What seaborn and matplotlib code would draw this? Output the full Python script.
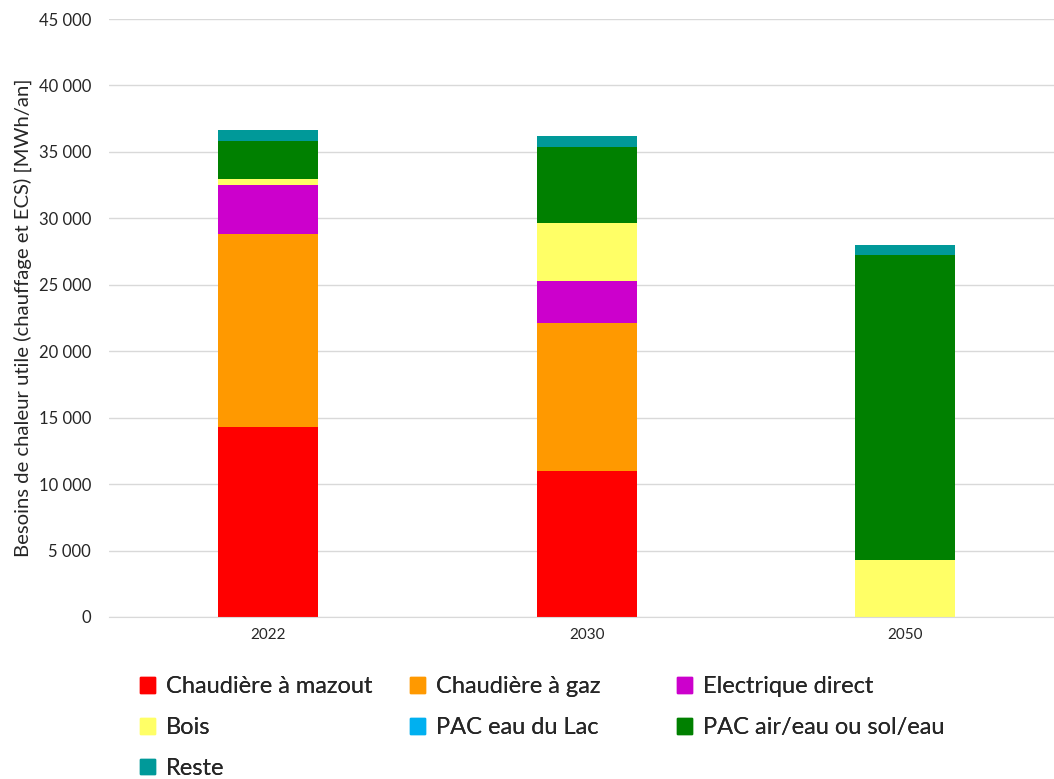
import matplotlib
matplotlib.use("Agg")
import matplotlib.pyplot as plt
import matplotlib.patches as mpatches
import matplotlib.ticker as mticker
import numpy as np
import pandas as pd
import seaborn as sns

years = ["2022", "2030", "2050"]
mazout = [14300, 11000, 0]
gaz = [14500, 11100, 0]
electrique = [3700, 3160, 0]
bois = [460, 4410, 4290]
pac_lac = [0, 0, 0]
pac_air = [2880, 5720, 22930]
reste = [780, 810, 770]

series_names = ["Chaudière à mazout", "Chaudière à gaz", "Electrique direct", "Bois",
                "PAC eau du Lac", "PAC air/eau ou sol/eau", "Reste"]
series_values = [mazout, gaz, electrique, bois, pac_lac, pac_air, reste]
colors = ["#FF0000", "#FF9900", "#CC00CC", "#FFFF66", "#00B0F0", "#008000", "#009999"]


def main():
    sns.set_style("white")
    plt.rcParams["font.family"] = ["Lato", "DejaVu Sans"]

    fig = plt.figure(figsize=(10.54, 7.79), dpi=100)
    ax = fig.add_axes([0.1034, 0.208, 0.8966, 0.7676])

    df = pd.DataFrame(dict(zip(series_names, series_values)), index=years)
    cumul = df.cumsum(axis=1)

    # stacked bars: draw cumulative totals from top layer down
    for name, color in reversed(list(zip(series_names, colors))):
        sns.barplot(x=years, y=cumul[name].values, color=color, saturation=1,
                    width=0.314, linewidth=0, ax=ax)

    ax.set_ylim(0, 45000)
    ax.set_xlim(-0.5, 2.467)
    ax.yaxis.set_major_locator(mticker.MultipleLocator(5000))
    ax.yaxis.set_major_formatter(mticker.FuncFormatter(lambda v, p: f"{int(v):,}".replace(",", " ")))
    ax.yaxis.grid(True, color="#D9D9D9", linewidth=1)
    ax.set_axisbelow(True)
    for side in ["top", "right", "left"]:
        ax.spines[side].set_visible(False)
    ax.spines["bottom"].set_color("#D9D9D9")
    ax.tick_params(axis="y", length=0, pad=13, labelsize=12, labelcolor="#262626")
    ax.tick_params(axis="x", length=0, pad=8, labelsize=11, labelcolor="#262626")
    ax.set_ylabel("Besoins de chaleur utile (chauffage et ECS) [MWh/an]", fontsize=14.6,
                  color="#262626", labelpad=5)
    ax.set_xlabel("")

    # legend laid out like Excel: three equal-width columns, row-major order
    handles = [mpatches.Patch(color=c, label=n) for n, c in zip(series_names, colors)]
    columns = [[0, 3, 6], [1, 4], [2, 5]]
    col_x = [0.1328, 0.389, 0.6423]
    for idx, x0 in zip(columns, col_x):
        leg = fig.legend([handles[i] for i in idx], [series_names[i] for i in idx],
                         loc="upper left", bbox_to_anchor=(x0, 0.132), frameon=False,
                         fontsize=17, handlelength=0.65, handleheight=0.65, handletextpad=0.45,
                         labelspacing=0.84, borderpad=0, borderaxespad=0, labelcolor="#262626")
        fig.add_artist(leg)

    fig.savefig("out.png", dpi=100)


if __name__ == "__main__":
    main()
